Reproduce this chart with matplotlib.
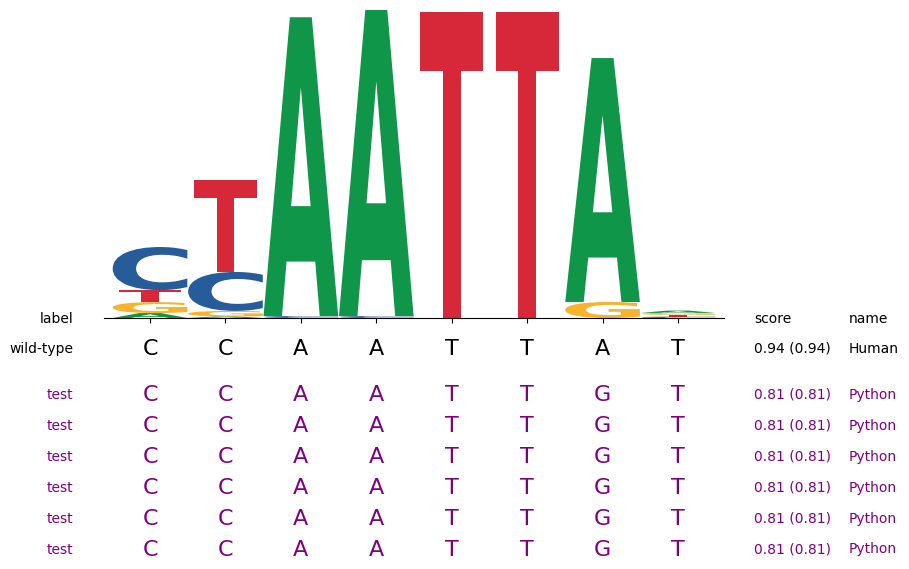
import matplotlib
matplotlib.use("Agg")
import matplotlib.pyplot as plt
from matplotlib.textpath import TextPath
from matplotlib.patches import PathPatch
from matplotlib.font_manager import FontProperties
from matplotlib.transforms import Affine2D, blended_transform_factory

# ---- data: information content (bits) per position ----
positions = list(range(8))
bits_A = [0.032, 0.010, 1.940, 1.990, 0.000, 0.000, 1.584, 0.015]
bits_C = [0.280, 0.253, 0.013, 0.013, 0.000, 0.000, 0.000, 0.009]
bits_G = [0.071, 0.036, 0.000, 0.000, 0.000, 0.000, 0.104, 0.013]
bits_T = [0.078, 0.597, 0.000, 0.000, 1.990, 1.990, 0.000, 0.011]

header = ["label", "score", "name"]
row_labels = ["wild-type", "test", "test", "test", "test", "test", "test"]
row_seqs = ["CCAATTAT", "CCAATTGT", "CCAATTGT", "CCAATTGT",
            "CCAATTGT", "CCAATTGT", "CCAATTGT"]
row_scores = ["0.94 (0.94)"] + ["0.81 (0.81)"] * 6
row_names = ["Human"] + ["Python"] * 6
row_colors = ["black"] + ["#800080"] * 6

colors = {"A": "#109648", "C": "#255C99", "G": "#F7B32B", "T": "#D62839"}
glyph_width = {"A": 0.99, "C": 0.99, "G": 0.99, "T": 0.835}

W, H = 909, 569
fig = plt.figure(figsize=(W / 100, H / 100), dpi=100)
ax = fig.add_axes([104 / W, (H - 318) / H, 620 / W, 308 / H])
ax.set_xlim(-0.61, 7.61)
ax.set_ylim(0, 2)
for s in ["left", "top", "right"]:
    ax.spines[s].set_visible(False)
ax.set_xticks(positions)
ax.set_xticklabels([])
ax.set_yticks([])

fp = FontProperties(family="DejaVu Sans", weight="bold")


def draw_glyph(ch, x, y0, h, w, color):
    p = TextPath((0, 0), ch, size=1, prop=fp)
    ext = p.get_extents()
    t = (Affine2D().translate(-ext.x0, -ext.y0)
         .scale(w / ext.width, h / ext.height)
         .translate(x - w / 2, y0))
    ax.add_patch(PathPatch(t.transform_path(p), facecolor=color,
                           edgecolor="none", lw=0))


table = {"A": bits_A, "C": bits_C, "G": bits_G, "T": bits_T}
for i in positions:
    vals = sorted([(table[c][i], c) for c in "ACGT"])
    y = 0.0
    for v, c in vals:
        if v <= 0:
            continue
        draw_glyph(c, i, y, v, glyph_width[c], colors[c])
        y += v

# ---- table below the logo ----
tr = blended_transform_factory(ax.transData, fig.transFigure)


def fy(px):
    return 1 - px / H


x_label = 73.5 / W
x_score = 754 / W
x_name = 849 / W

fig.text(x_label, fy(322.7), header[0], ha="right", va="baseline", fontsize=10)
fig.text(x_score, fy(322.7), header[1], ha="left", va="baseline", fontsize=10)
fig.text(x_name, fy(322.7), header[2], ha="left", va="baseline", fontsize=10)

big_base = [355.0] + [401.3 + 30.9 * k for k in range(6)]
small_base = [353.0] + [399.0 + 30.9 * k for k in range(6)]

for r in range(len(row_labels)):
    col = row_colors[r]
    fig.text(x_label, fy(small_base[r]), row_labels[r], ha="right",
             va="baseline", fontsize=10, color=col)
    for i, ch in enumerate(row_seqs[r]):
        fig.text(i, fy(big_base[r]), ch, transform=tr, ha="center",
                 va="baseline", fontsize=16, color=col)
    fig.text(x_score, fy(small_base[r]), row_scores[r], ha="left",
             va="baseline", fontsize=10, color=col)
    fig.text(x_name, fy(small_base[r]), row_names[r], ha="left",
             va="baseline", fontsize=10, color=col)

fig.savefig("out.png", dpi=100)
